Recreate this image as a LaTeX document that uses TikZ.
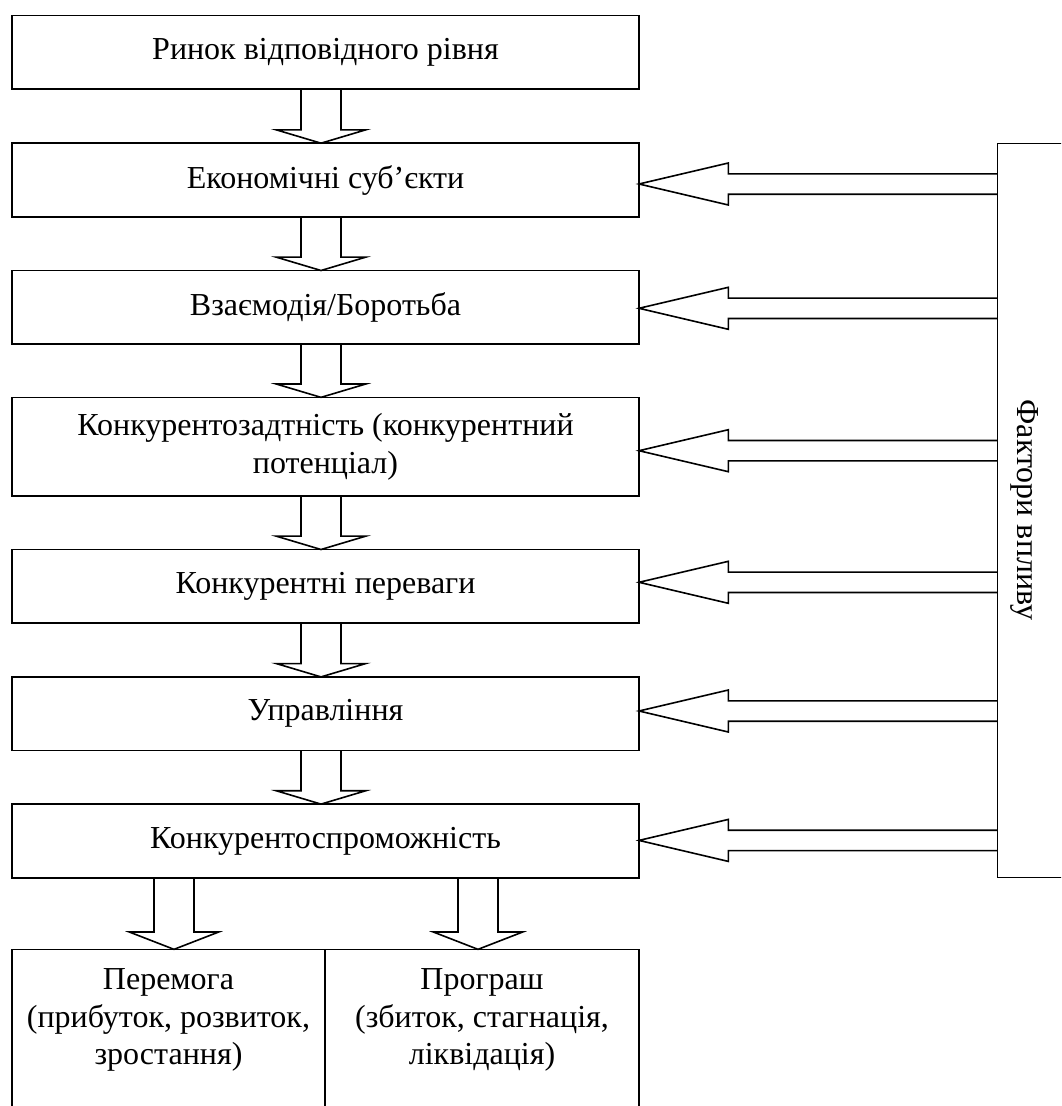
\documentclass[tikz,border=0pt]{standalone}
\usepackage{fontspec}
\setmainfont{Liberation Serif}
\usetikzlibrary{calc}
\newcommand\dnarr[4]{\draw[blk] let \p1=(#1.south), \p2=(#2.north), \p3=(#3) in (\x3-15pt,\y1) -- (\x3-15pt,\y2+#4) -- (\x3-33.5pt,\y2+#4) -- (\x3,\y2) -- (\x3+33.5pt,\y2+#4) -- (\x3+15pt,\y2+#4) -- (\x3+15pt,\y1);}
\newcommand\lfarr[3]{\draw[blk] let \p1=(#1.east), \p2=(#2.west), \p3=(0,#3) in (\x2,\y3+7.65pt) -- (\x1+67pt,\y3+7.65pt) -- (\x1+67pt,\y3+15.75pt) -- (\x1,\y3) -- (\x1+67pt,\y3-15.75pt) -- (\x1+67pt,\y3-7.65pt) -- (\x2,\y3-7.65pt);}
\begin{document}
\begin{tikzpicture}[x=0.75pt,y=-0.75pt,
  txt/.style={inner sep=0pt,outer sep=0pt,font=\fontsize{24}{28}\selectfont,align=center},
  box/.style={txt,draw,line width=1.2pt,minimum width=470.25pt,minimum height=55.2pt},
  blk/.style={draw,line width=1.2pt,line join=miter}]
\useasboundingbox (0,0) rectangle (1061,1106);
\clip (0,0) rectangle (1061,1106);
\fill[white] (0,0) rectangle (1061,1106);
\node[box] (b1) at (325.5,52.5) {Ринок відповідного рівня};
\node[box] (b2) at (325.5,180) {Економічні суб’єкти};
\node[box] (b3) at (325.5,307.3) {Взаємодія/Боротьба};
\node[box,minimum height=74pt] (b4) at (325.5,446.7) {Конкурентозадтність (конкурентний\\потенціал)};
\node[box] (b5) at (325.5,586.3) {Конкурентні переваги};
\node[box] (b6) at (325.5,713.7) {Управління};
\node[box] (b7) at (325.5,840.9) {Конкурентоспроможність};
\node[box,minimum width=234.75pt,minimum height=130pt] (bl) at (168.5,1036) {};
\node[box,minimum width=235.5pt,minimum height=130pt] (br) at (482,1036) {};
\node[txt,anchor=north] (tl) at (168.5,969) {Перемога\\(прибуток, розвиток,\\зростання)};
\node[txt,anchor=north] (tr) at (482,969) {Програш\\(збиток, стагнація,\\ліквідація)};
\node[box,minimum width=62pt,minimum height=550.5pt] (f) at (1038.7,510.3) {};
\node[txt,rotate=-90] (fl) at (1025,510) {Фактори впливу};
\coordinate (cx) at (321,0);
\coordinate (lx) at (174,0);
\coordinate (rx) at (478,0);
\dnarr{b1}{b2}{cx}{10pt}
\dnarr{b2}{b3}{cx}{10pt}
\dnarr{b3}{b4}{cx}{10pt}
\dnarr{b4}{b5}{cx}{10pt}
\dnarr{b5}{b6}{cx}{10pt}
\dnarr{b6}{b7}{cx}{10pt}
\dnarr{b7}{bl}{lx}{13pt}
\dnarr{b7}{br}{rx}{13pt}
\lfarr{b2}{f}{184}
\lfarr{b3}{f}{308.3}
\lfarr{b4}{f}{450.7}
\lfarr{b5}{f}{582.3}
\lfarr{b6}{f}{711}
\lfarr{b7}{f}{840.4}
\end{tikzpicture}
\end{document}
